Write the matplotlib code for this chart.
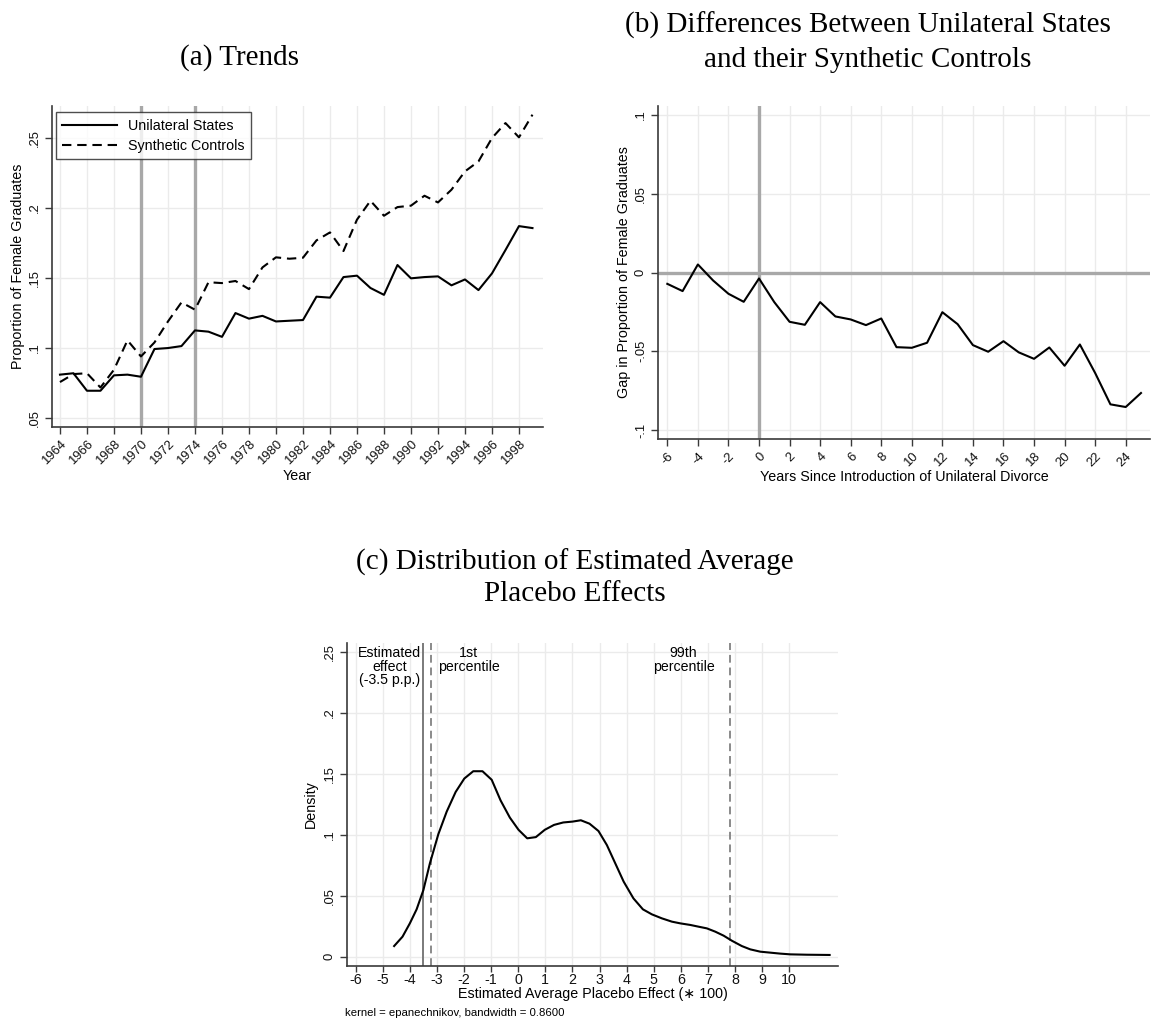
import matplotlib
matplotlib.use("Agg")
import matplotlib.pyplot as plt

plt.rcParams['font.family'] = ['Liberation Sans', 'DejaVu Sans']
plt.rcParams['axes.unicode_minus'] = False

# ---- data -------------------------------------------------------------
years = list(range(1964, 2000))
unilateral = [0.081, 0.082, 0.0695, 0.0695, 0.0805, 0.081, 0.0795, 0.0993,
              0.100, 0.1014, 0.1126, 0.1117, 0.108, 0.125, 0.121, 0.123,
              0.119, 0.1195, 0.120, 0.1367, 0.136, 0.1507, 0.1517, 0.1429,
              0.138, 0.1593, 0.1498, 0.1507, 0.1512, 0.1448, 0.149, 0.1414,
              0.1533, 0.170, 0.1871, 0.1857]
synthetic = [0.0757, 0.0814, 0.082, 0.0718, 0.0845, 0.1055, 0.094, 0.104,
             0.119, 0.1326, 0.1274, 0.147, 0.1464, 0.1479, 0.1421, 0.1576,
             0.1648, 0.1638, 0.1645, 0.1769, 0.1826, 0.1693, 0.1917, 0.2052,
             0.1945, 0.2007, 0.2017, 0.2088, 0.204, 0.2131, 0.2262, 0.2333,
             0.250, 0.2607, 0.2505, 0.2667]
reform_years = [1970, 1974]

event_time = list(range(-6, 26))
gap = [-0.0072, -0.0118, 0.0051, -0.0051, -0.0135, -0.0186, -0.0038, -0.0188,
       -0.0313, -0.0332, -0.0188, -0.0279, -0.0298, -0.0334, -0.0292, -0.0474,
       -0.0478, -0.0446, -0.0252, -0.0328, -0.0461, -0.0503, -0.0436, -0.0507,
       -0.0548, -0.0476, -0.0592, -0.0457, -0.0638, -0.0837, -0.0854, -0.0765]

placebo_x = [-4.58, -4.27, -4.0, -3.75, -3.5, -3.26, -2.95, -2.64, -2.31, -1.99,
             -1.66, -1.32, -0.98, -0.65, -0.31, 0.01, 0.33, 0.65, 0.98, 1.32,
             1.66, 2.0, 2.31, 2.63, 2.96, 3.27, 3.58, 3.89, 4.25, 4.6, 4.93,
             5.3, 5.67, 5.98, 6.35, 6.65, 6.96, 7.27, 7.58, 7.88, 8.25, 8.56,
             8.93, 9.3, 9.67, 10.04, 10.65, 11.49]
placebo_density = [0.0087, 0.0164, 0.0273, 0.0388, 0.0546, 0.0765, 0.1003,
                   0.1189, 0.135, 0.146, 0.152, 0.152, 0.145, 0.128, 0.114,
                   0.104, 0.097, 0.098, 0.104, 0.108, 0.110, 0.1107, 0.1118,
                   0.109, 0.103, 0.0915, 0.0765, 0.0615, 0.0478, 0.0388,
                   0.0347, 0.0314, 0.0287, 0.0273, 0.026, 0.0246, 0.0232,
                   0.0205, 0.0172, 0.0131, 0.0087, 0.006, 0.0041, 0.0033,
                   0.0025, 0.0019, 0.0016, 0.0014]
estimated_effect = -3.5
pct1 = -3.22
pct99 = 7.8

# ---- figure -----------------------------------------------------------
W, H = 1151, 1021
fig = plt.figure(figsize=(W / 100, H / 100), dpi=100)


def px_axes(left, top, right, bottom):
    return fig.add_axes([left / W, 1 - bottom / H, (right - left) / W, (bottom - top) / H])


GRID = '#ebebeb'
SPINE = '#3a3a3a'
REF = '#a8a8a8'
TICK_FS = 9.4
LABEL_FS = 10.3


def stata_style(ax):
    for s in ('top', 'right'):
        ax.spines[s].set_visible(False)
    for s in ('left', 'bottom'):
        ax.spines[s].set_color(SPINE)
        ax.spines[s].set_linewidth(1.2)
    ax.tick_params(direction='out', length=5, width=1, color=SPINE,
                   labelsize=TICK_FS, labelcolor='#111111', pad=3)
    ax.grid(True, color=GRID, linewidth=1.0)
    ax.set_axisbelow(True)


def title_text(x, y, s):
    fig.text(x / W, 1 - y / H, s, ha='center', va='center',
             fontsize=21, family=['Liberation Serif', 'DejaVu Serif'])


# (a) Trends
ax1 = px_axes(52, 106, 543, 427)
stata_style(ax1)
for yr in reform_years:
    ax1.axvline(yr, color=REF, linewidth=2.4, zorder=1)
ax1.plot(years, unilateral, color='black', linewidth=1.5, label='Unilateral States')
ax1.plot(years, synthetic, color='black', linewidth=1.5, linestyle=(0, (4.5, 2.8)),
         label='Synthetic Controls')
ax1.set_xlim(1963.41, 1999.78)
ax1.set_ylim(0.0436, 0.2729)
ax1.set_xticks(list(range(1964, 1999, 2)))
ax1.set_xticklabels([str(y) for y in range(1964, 1999, 2)], rotation=45,
                    ha='right', rotation_mode='anchor')
ax1.set_yticks([0.05, 0.10, 0.15, 0.20, 0.25])
ax1.set_yticklabels(['.05', '.1', '.15', '.2', '.25'], rotation=90, va='center')
ax1.set_xlabel('Year', fontsize=LABEL_FS, labelpad=1)
ax1.set_ylabel('Proportion of Female Graduates', fontsize=LABEL_FS, labelpad=3)
leg = ax1.legend(loc='upper left', bbox_to_anchor=(0.008, 0.981), fontsize=10.3,
                 frameon=True, fancybox=False, edgecolor='#222222',
                 handlelength=3.8, borderpad=0.45, labelspacing=0.42,
                 handletextpad=0.8, borderaxespad=0)
leg.get_frame().set_linewidth(1.0)
title_text(240, 58, '(a) Trends')

# (b) Gap between unilateral states and synthetic controls
ax2 = px_axes(658, 106, 1150, 439)
stata_style(ax2)
ax2.axhline(0, color=REF, linewidth=2.4, zorder=1)
ax2.axvline(0, color=REF, linewidth=2.4, zorder=1)
ax2.plot(event_time, gap, color='black', linewidth=1.5)
ax2.set_xlim(-6.61, 25.59)
ax2.set_ylim(-0.1057, 0.1057)
ax2.set_xticks(list(range(-6, 25, 2)))
ax2.set_xticklabels([str(v) for v in range(-6, 25, 2)], rotation=45,
                    ha='right', rotation_mode='anchor')
ax2.set_yticks([-0.1, -0.05, 0, 0.05, 0.1])
ax2.set_yticklabels(['-.1', '-.05', '0', '.05', '.1'], rotation=90, va='center')
ax2.set_xlabel('Years Since Introduction of Unilateral Divorce', fontsize=LABEL_FS,
               labelpad=1)
ax2.set_ylabel('Gap in Proportion of Female Graduates', fontsize=LABEL_FS, labelpad=3)
title_text(868, 25, '(b) Differences Between Unilateral States')
title_text(868, 60, 'and their Synthetic Controls')

# (c) Distribution of placebo effects
ax3 = px_axes(346.7, 643, 838.3, 965.7)
stata_style(ax3)
ax3.axvline(estimated_effect, color='#7a7a7a', linewidth=1.4, zorder=1.5)
ax3.axvline(pct1, color='#8a8a8a', linewidth=1.4, linestyle=(0, (4, 2.5)), zorder=1.5)
ax3.axvline(pct99, color='#8a8a8a', linewidth=1.4, linestyle=(0, (4, 2.5)), zorder=1.5)
ax3.plot(placebo_x, placebo_density, color='black', linewidth=1.5)
ax3.set_xlim(-6.33, 11.81)
ax3.set_ylim(-0.0074, 0.2571)
ax3.set_xticks(list(range(-6, 11)))
ax3.tick_params(axis='x', labelsize=10.3, length=4, pad=1)
ax3.set_yticks([0, 0.05, 0.1, 0.15, 0.2, 0.25])
ax3.set_yticklabels(['0', '.05', '.1', '.15', '.2', '.25'], rotation=90, va='center')
ax3.set_xlabel('Estimated Average Placebo Effect (\u2217 100)', fontsize=LABEL_FS,
               labelpad=0)
ax3.set_ylabel('Density', fontsize=LABEL_FS, labelpad=4)
ann = dict(ha='center', va='top', fontsize=10.2, linespacing=0.95)
ax3.text(-4.74, 0.2545, 'Estimated\neffect\n(-3.5 p.p.)', **ann)
ax3.text(-1.82, 0.2545, '1st\npercentile', **ann)
ax3.text(6.1, 0.2545, '99th\npercentile', **ann)
fig.text(345 / W, 1 - 1013 / H, 'kernel = epanechnikov, bandwidth = 0.8600',
         fontsize=8.2, ha='left', va='center')
title_text(575, 562, '(c) Distribution of Estimated Average')
title_text(575, 594, 'Placebo Effects')

fig.savefig('out.png', dpi=100)
